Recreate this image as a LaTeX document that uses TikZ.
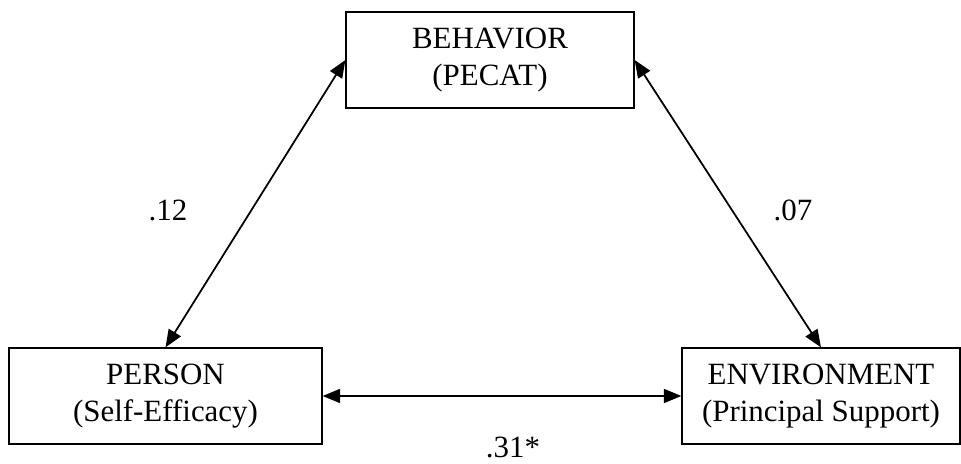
\documentclass[tikz,border=0pt]{standalone}
\usepackage{fontspec}
\setmainfont{Liberation Serif}
\usetikzlibrary{positioning}
\usetikzlibrary{arrows.meta}
\tikzset{
    factor/.style = {rectangle, draw=black, line width=0.7pt, align=center, minimum width=#1, minimum height=1.92cm, inner sep=0pt},
    coef/.style = {inner sep=0pt},
    link/.style = {{Triangle[length=10pt,width=8pt]}-{Triangle[length=10pt,width=8pt]}, line width=1pt}, % two-way path
    every node/.style={font=\fontsize{17.6}{21}\selectfont}
}

\begin{document}
\begin{tikzpicture}
\useasboundingbox (0,0) rectangle (19.22,9.28);
\node[factor=5.76cm] at (9.80, 8.08) (beh) {BEHAVIOR\\(PECAT)};
\node[factor=6.26cm] at (3.31, 1.36) (per) {PERSON\\(Self-Efficacy)};
\node[factor=5.56cm] at (16.42, 1.36) (env) {ENVIRONMENT\\(Principal Support)};
\draw[link] (beh.west) -- (per.north);
\draw[link] (beh.east) -- (env.north);
\draw[link] (per.east) -- (env.west);
\node[coef] at (3.36, 5.08) (c12) {.12};
\node[coef] at (15.86, 5.08) (c07) {.07};
\node[coef, anchor=base] at (10.26, 0.12) (c31) {.31*};
\end{tikzpicture}
\end{document}
